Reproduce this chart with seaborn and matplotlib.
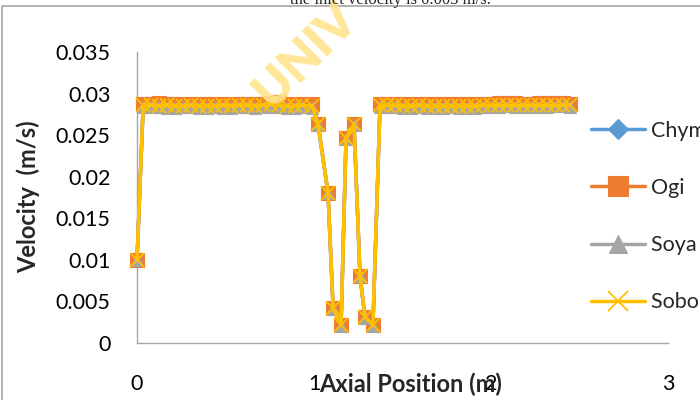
import matplotlib
matplotlib.use("Agg")
import matplotlib.pyplot as plt
import seaborn as sns
import pandas as pd
from matplotlib.patches import Rectangle

# ---- data ----
x_pos = [0.0, 0.035, 0.08, 0.125, 0.17, 0.215, 0.26, 0.305, 0.35, 0.395, 0.44, 0.485,
         0.53, 0.575, 0.62, 0.665, 0.71, 0.755, 0.80, 0.845, 0.89, 0.935, 0.99,
         1.023, 1.079, 1.108, 1.153, 1.181, 1.226, 1.260, 1.288, 1.333, 1.373,
         1.415, 1.46, 1.505, 1.55, 1.595, 1.64, 1.685, 1.73, 1.775, 1.82, 1.865,
         1.91, 1.955, 2.0, 2.045, 2.09, 2.135, 2.18, 2.225, 2.27, 2.315, 2.36, 2.405, 2.446]

chyme = [0.0100, 0.0286, 0.0287, 0.0286, 0.0286, 0.0285, 0.0286, 0.0287, 0.0286, 0.0285, 0.0286, 0.0286,
         0.0285, 0.0286, 0.0287, 0.0286, 0.0286, 0.0287, 0.0286, 0.0286, 0.0285, 0.0286, 0.0286,
         0.0263, 0.0181, 0.0042, 0.0022, 0.0246, 0.0263, 0.0081, 0.0031, 0.0022, 0.0286,
         0.0287, 0.0286, 0.0286, 0.0285, 0.0286, 0.0286, 0.0285, 0.0285, 0.0286, 0.0286, 0.0285,
         0.0285, 0.0286, 0.0286, 0.0287, 0.0288, 0.0286, 0.0286, 0.0286, 0.0287, 0.0286, 0.0287, 0.0288, 0.0287]

ogi = [0.0100, 0.0288, 0.0288, 0.0289, 0.0288, 0.0287, 0.0288, 0.0288, 0.0287, 0.0287, 0.0288, 0.0287,
       0.0287, 0.0288, 0.0288, 0.0287, 0.0288, 0.0289, 0.0290, 0.0288, 0.0287, 0.0288, 0.0287,
       0.0263, 0.0181, 0.0042, 0.0022, 0.0246, 0.0263, 0.0081, 0.0031, 0.0022, 0.0288,
       0.0288, 0.0288, 0.0287, 0.0287, 0.0288, 0.0287, 0.0287, 0.0287, 0.0288, 0.0287, 0.0287,
       0.0287, 0.0288, 0.0288, 0.0289, 0.0289, 0.0289, 0.0288, 0.0288, 0.0289, 0.0289, 0.0289, 0.0289, 0.0288]

soya = [0.0100, 0.0284, 0.0284, 0.0284, 0.0283, 0.0283, 0.0284, 0.0284, 0.0283, 0.0283, 0.0284, 0.0283,
        0.0283, 0.0284, 0.0284, 0.0283, 0.0284, 0.0284, 0.0284, 0.0283, 0.0283, 0.0284, 0.0283,
        0.0262, 0.0180, 0.0041, 0.0021, 0.0245, 0.0262, 0.0080, 0.0030, 0.0021, 0.0284,
        0.0284, 0.0284, 0.0283, 0.0283, 0.0284, 0.0283, 0.0283, 0.0283, 0.0284, 0.0283, 0.0283,
        0.0283, 0.0284, 0.0284, 0.0284, 0.0285, 0.0284, 0.0284, 0.0284, 0.0284, 0.0284, 0.0285, 0.0285, 0.0284]

sobo = [0.0100, 0.0286, 0.0286, 0.0285, 0.0286, 0.0285, 0.0285, 0.0286, 0.0285, 0.0285, 0.0285, 0.0286,
        0.0285, 0.0286, 0.0286, 0.0285, 0.0286, 0.0287, 0.0286, 0.0285, 0.0285, 0.0286, 0.0285,
        0.0263, 0.0181, 0.0042, 0.0022, 0.0246, 0.0263, 0.0081, 0.0031, 0.0022, 0.0286,
        0.0286, 0.0286, 0.0285, 0.0285, 0.0286, 0.0285, 0.0285, 0.0285, 0.0285, 0.0285, 0.0285,
        0.0285, 0.0286, 0.0286, 0.0286, 0.0286, 0.0286, 0.0286, 0.0286, 0.0286, 0.0286, 0.0286, 0.0286, 0.0286]

series_names = ["Chyme", "Ogi", "Soya bean", "Sobo drink"]
series_values = [chyme, ogi, soya, sobo]
series_colors = ["#5B9BD5", "#ED7D31", "#A5A5A5", "#FFC000"]
series_markers = ["D", "s", "^", "x"]
series_msize = [7, 10, 9, 10]

x_ticks = [0, 1, 2, 3]
x_ticklabels = ["0", "1", "2", "3"]
y_ticks = [0, 0.005, 0.01, 0.015, 0.02, 0.025, 0.03, 0.035]
y_ticklabels = ["0", "0.005", "0.01", "0.015", "0.02", "0.025", "0.03", "0.035"]

# ---- build long-form table ----
rows = []
for name, vals in zip(series_names, series_values):
    for xv, yv in zip(x_pos, vals):
        rows.append({"x": xv, "y": yv, "series": name})
df = pd.DataFrame(rows)

sns.set_style("white")
plt.rcParams["font.family"] = ["Lato", "DejaVu Sans"]

fig = plt.figure(figsize=(7, 4), dpi=100)
ax = fig.add_axes([137 / 700, 57 / 400, (668 - 137) / 700, (343 - 52) / 400])

for name, col, mk, ms in zip(series_names, series_colors, series_markers, series_msize):
    sub = df[df["series"] == name]
    mew = 1.3 if mk == "x" else 0.8
    sns.lineplot(data=sub, x="x", y="y", ax=ax, color=col, marker=mk,
                 linewidth=2.5, label=name, sort=False, estimator=None,
                 clip_on=False, zorder=3, markersize=ms,
                 markeredgecolor=col, markeredgewidth=mew)

ax.set_xlim(0, 3)
ax.set_ylim(0, 0.035)
ax.set_xticks(x_ticks)
ax.set_xticklabels(x_ticklabels)
ax.set_yticks(y_ticks)
ax.set_yticklabels(y_ticklabels)
ax.tick_params(axis="both", length=0, labelsize=15.5, colors="black")
ax.tick_params(axis="y", pad=19)
ax.tick_params(axis="x", pad=22)

for s in ["top", "right"]:
    ax.spines[s].set_visible(False)
for s in ["left", "bottom"]:
    ax.spines[s].set_color("#A6A6A6")
    ax.spines[s].set_linewidth(1.0)

ax.set_xlabel("")
ax.set_ylabel("")
fig.text(411 / 700, 1 - 384 / 400, "Axial Position (m)", ha="center", va="center",
         fontsize=17, fontweight="bold")
fig.text(28 / 700, 1 - 197 / 400, "Velocity  (m/s)", ha="center", va="center",
         rotation=90, fontsize=17, fontweight="bold")

# legend
ax.get_legend().remove()
handles, labels = ax.get_legend_handles_labels()
fig.legend(handles, labels, loc="upper left", bbox_to_anchor=(591 / 700, 1 - 121 / 400),
           frameon=False, fontsize=15.5, handlelength=2.5, handletextpad=0.3,
           labelspacing=1.72, borderpad=0, borderaxespad=0, markerscale=1.5)

# chart border
fig.patches.append(Rectangle((2 / 700, -0.1), 1.2, 1 - 6 / 400 + 0.1, transform=fig.transFigure,
                             fill=False, edgecolor="#A6A6A6", linewidth=1.2, zorder=0))

# cut-off caption text at top and watermark
fig.text(390 / 700, 1.0, "the inlet velocity is 0.003 m/s.", ha="center", va="center",
         fontsize=12, family="Liberation Serif")
fig.text(306 / 700, 1 - 55 / 400, "UNIV", ha="center", va="center", rotation=45,
         fontsize=35, fontweight="heavy", color="#FFE48C", alpha=0.9, zorder=0)

fig.savefig("out.png", dpi=100)
